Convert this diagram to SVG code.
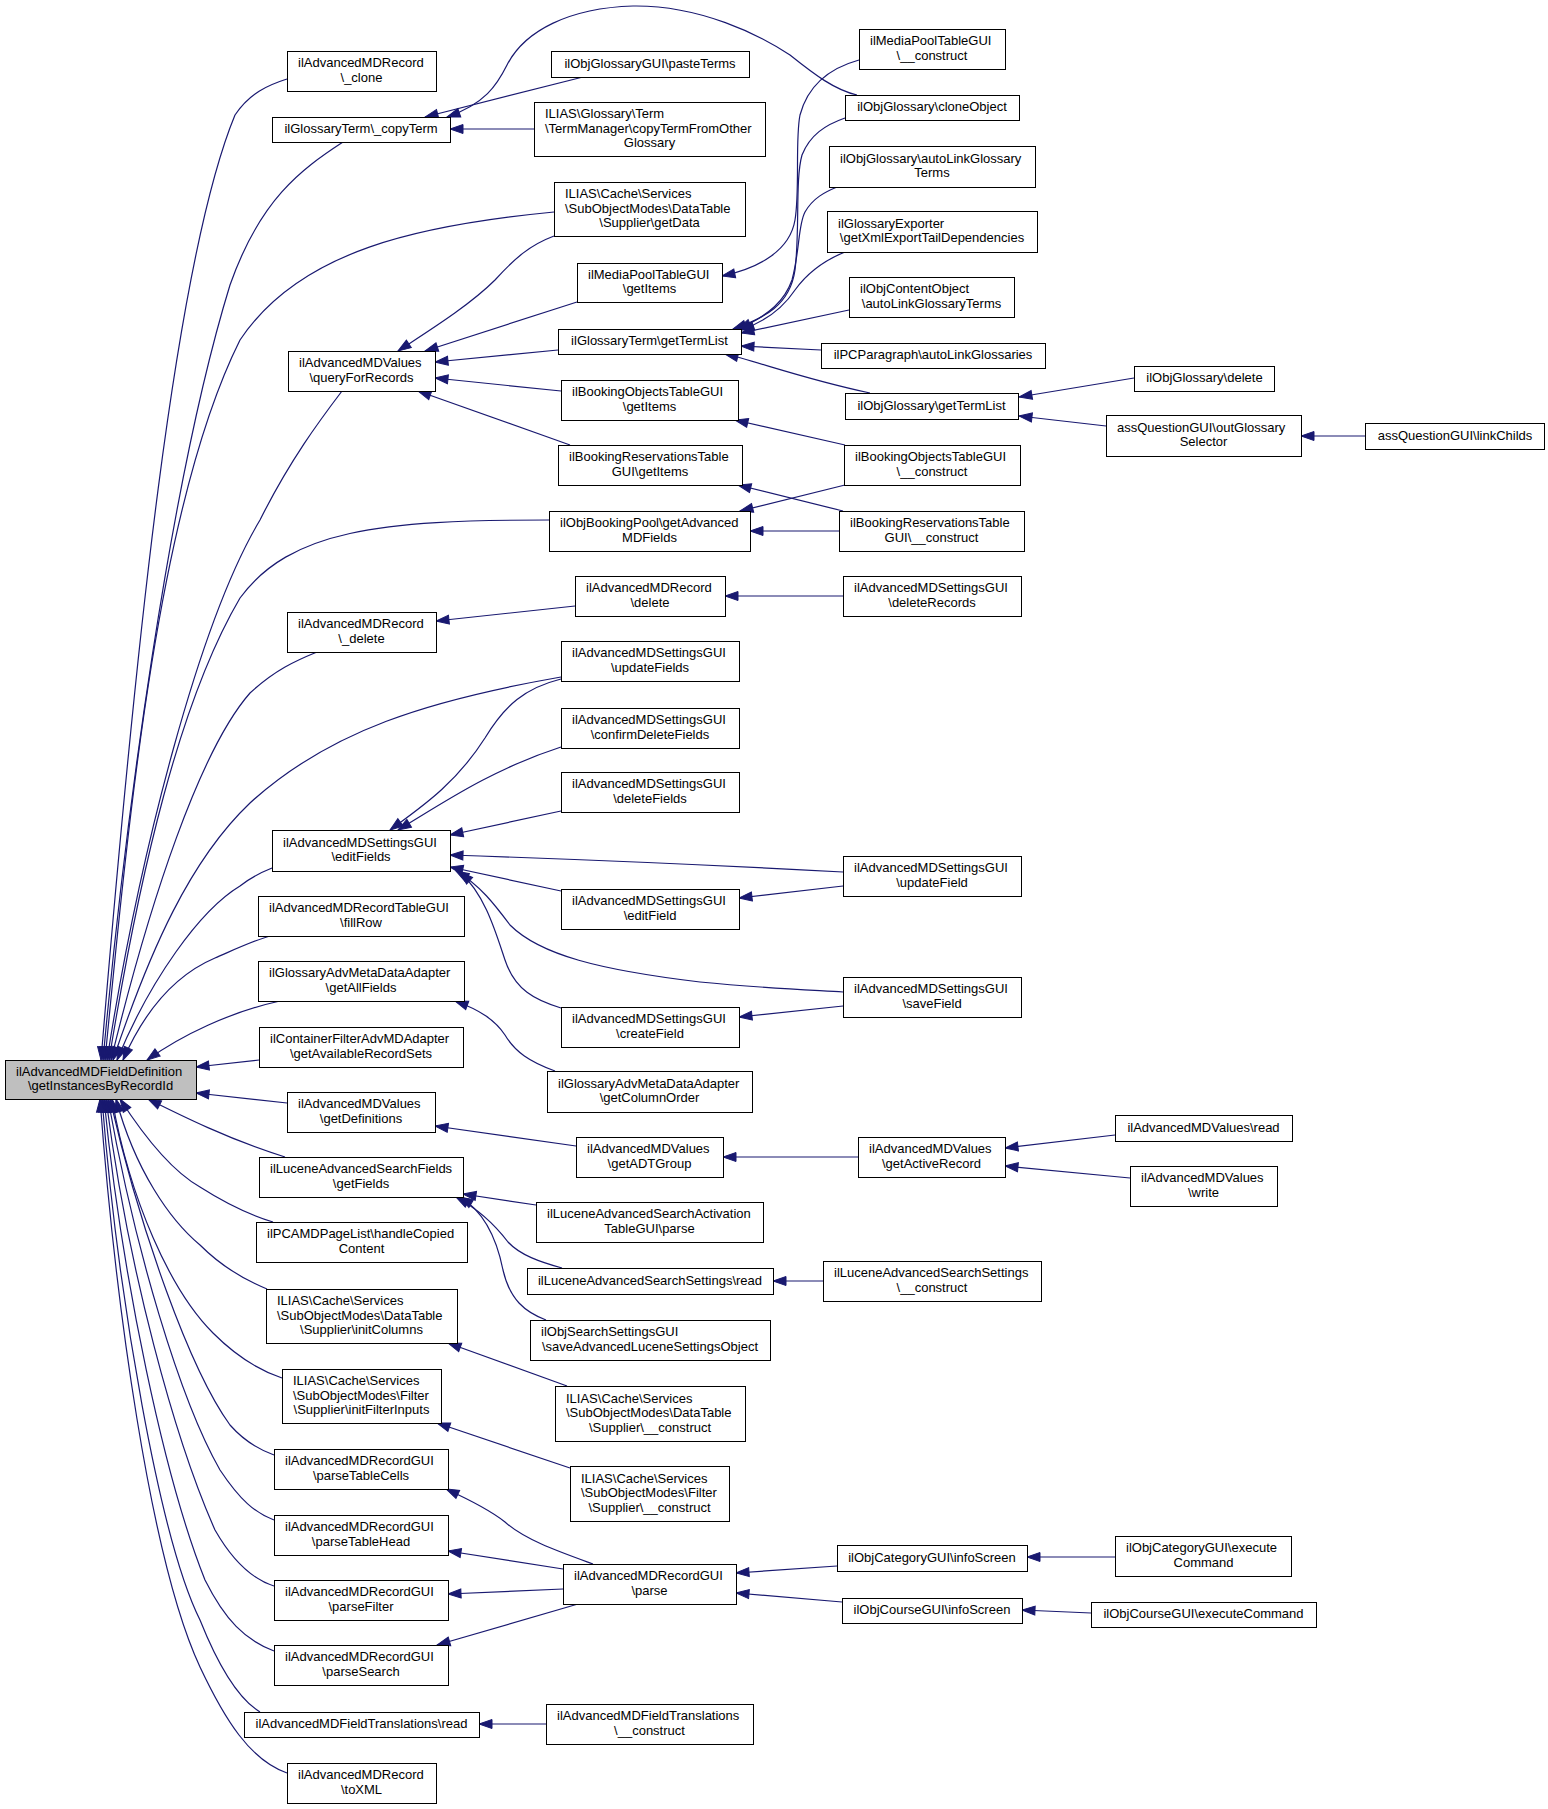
<svg xmlns="http://www.w3.org/2000/svg" width="1548" height="1809" viewBox="0 0 1548 1809">
<style>
.n rect{fill:#fff;stroke:#000;stroke-width:1}
.m rect{fill:#bfbfbf;stroke:#000;stroke-width:1}
text{font-family:"Liberation Sans",Arial,Helvetica,sans-serif;font-size:13px;fill:#000}
.c{text-anchor:middle}
#edges path{fill:none;stroke:#191970;stroke-width:1.2;marker-start:url(#ah)}
</style>
<defs>
<marker id="ah" markerUnits="userSpaceOnUse" markerWidth="14" markerHeight="10" refX="13" refY="4.5" orient="auto-start-reverse" overflow="visible">
<path d="M0,0 L13,4.5 L0,9 z" fill="#191970" stroke="#191970" stroke-width="1"/>
</marker>
</defs>
<rect width="1548" height="1809" fill="#fff"/>
<g id="edges">
<!-- main top -->
<path d="M101,1060 C135,650 175,260 235,115 C250,93 268,85 287,79"/>
<path d="M103,1060 C125,820 170,480 230,285 C260,200 300,170 343,142"/>
<path d="M105,1060 C130,800 160,500 240,340 C300,250 420,225 554,212"/>
<path d="M107,1060 C140,850 200,620 260,520 C290,460 320,420 342,391"/>
<path d="M109,1060 C140,870 180,700 240,598 C290,530 380,520 549,520"/>
<path d="M111,1060 C150,900 200,750 250,693 C275,670 295,661 317,652"/>
<path d="M113,1060 C150,950 190,860 250,803 C330,730 430,700 561,677"/>
<path d="M117,1060 C150,980 200,910 240,886 C250,878 262,872 272,868"/>
<path d="M123,1060 C145,1010 175,975 215,958 C238,948 255,940 270,936"/>
<path d="M147,1060 C182,1035 230,1012 280,1001"/>
<!-- main right -->
<path d="M196,1067 L259,1060"/>
<path d="M196,1093 L287,1103"/>
<!-- main bottom -->
<path d="M148,1099 C180,1115 230,1140 285,1157"/>
<path d="M120,1099 C140,1130 170,1170 200,1187 C225,1203 250,1215 273,1222"/>
<path d="M116,1099 C135,1170 170,1220 200,1245 C220,1265 245,1280 267,1289"/>
<path d="M112,1099 C130,1200 170,1290 213,1333 C235,1355 258,1370 282,1378"/>
<path d="M110,1099 C140,1230 190,1370 230,1425 C245,1442 260,1450 274,1455"/>
<path d="M108,1099 C135,1250 180,1400 220,1470 C240,1500 255,1513 274,1520"/>
<path d="M106,1099 C128,1270 175,1440 215,1530 C235,1565 255,1580 274,1586"/>
<path d="M104,1099 C122,1280 165,1480 205,1580 C225,1620 245,1640 274,1651"/>
<path d="M102,1099 C118,1300 160,1540 200,1620 C220,1670 240,1700 260,1712"/>
<path d="M100,1099 C115,1300 150,1560 200,1667 C225,1720 250,1760 287,1773"/>
<!-- copyTerm -->
<path d="M425,117 L583,77"/>
<path d="M447,117 C485,104 497,85 507,65 C525,30 570,8 633,6 C700,5 760,35 790,55 C815,75 835,90 857,95"/>
<path d="M450,129 L534,129"/>
<!-- queryForRecords -->
<path d="M398,351 C430,330 470,305 495,280 C515,258 530,245 554,236"/>
<path d="M425,351 L577,302"/>
<path d="M435,362 L558,350"/>
<path d="M435,378 L561,391"/>
<path d="M418,391 L570,445"/>
<!-- media pool -->
<path d="M722,276 C760,268 790,250 795,220 C800,190 795,140 800,115 C808,85 830,68 859,60"/>
<!-- glossary term getTermList -->
<path d="M733,329 C765,318 790,305 795,270 C800,230 795,180 802,155 C810,135 825,125 845,118"/>
<path d="M738,329 C770,315 785,300 792,280 C800,250 798,225 805,212 C813,198 825,192 837,187"/>
<path d="M741,330 C770,320 785,305 795,290 C808,272 825,260 845,252"/>
<path d="M741,333 L849,310"/>
<path d="M741,346 L821,350"/>
<path d="M725,354 C760,362 800,378 870,393"/>
<!-- obj glossary getTermList -->
<path d="M1019,397 L1134,378"/>
<path d="M1019,416 L1106,426"/>
<path d="M1301,436 L1365,436"/>
<!-- booking -->
<path d="M735,420 L845,445"/>
<path d="M738,485 L843,511"/>
<path d="M740,511 L845,485"/>
<path d="M750,531 L839,531"/>
<!-- record delete -->
<path d="M725,596 L843,596"/>
<path d="M436,621 L575,606"/>
<!-- editFields -->
<path d="M390,830 C420,808 455,785 485,738 C505,705 525,688 561,679"/>
<path d="M398,830 C440,805 490,770 561,747"/>
<path d="M450,835 L561,811"/>
<path d="M450,855 C600,860 750,867 843,872"/>
<path d="M450,867 L561,891"/>
<path d="M456,871 C480,885 495,905 510,925 C540,955 600,970 700,982 C760,988 810,990 843,992"/>
<path d="M460,872 C485,895 495,930 505,960 C515,990 535,1000 561,1008"/>
<path d="M739,898 L843,886"/>
<path d="M739,1017 L843,1006"/>
<!-- getAllFields / getDefinitions -->
<path d="M455,1001 C480,1010 495,1020 505,1035 C515,1052 530,1062 555,1071"/>
<path d="M435,1126 L576,1146"/>
<path d="M723,1157 L858,1157"/>
<path d="M1005,1148 L1115,1135"/>
<path d="M1005,1166 L1130,1178"/>
<!-- getFields -->
<path d="M463,1194 L536,1205"/>
<path d="M456,1197 C480,1210 495,1225 508,1242 C520,1255 540,1262 562,1268"/>
<path d="M460,1197 C485,1212 497,1240 503,1270 C510,1300 525,1312 546,1320"/>
<path d="M773,1281 L823,1281"/>
<!-- supplier -->
<path d="M448,1343 L567,1386"/>
<path d="M437,1423 L570,1468"/>
<!-- parse -->
<path d="M446,1489 C470,1500 490,1510 505,1522 C525,1540 560,1552 593,1564"/>
<path d="M448,1551 L563,1569"/>
<path d="M448,1594 L563,1589"/>
<path d="M437,1645 L578,1604"/>
<path d="M736,1573 L837,1566"/>
<path d="M736,1593 L842,1602"/>
<path d="M1027,1557 L1115,1557"/>
<path d="M1022,1610 L1091,1613"/>
<path d="M479,1724 L546,1724"/>
</g>

<g id="main" class="m"><rect x="5.5" y="1060.5" width="191" height="39"/><text x="16" y="1076">ilAdvancedMDFieldDefinition</text><text class="c" x="100.5" y="1090.3">\getInstancesByRecordId</text></g>

<g id="n_clone" class="n"><rect x="287.5" y="51.5" width="149" height="40"/><text x="298" y="67.3">ilAdvancedMDRecord</text><text class="c" x="361.5" y="81.8">\_clone</text></g>
<g id="n_copyTerm" class="n"><rect x="272.5" y="117.5" width="178" height="25"/><text class="c" x="361" y="133">ilGlossaryTerm\_copyTerm</text></g>
<g id="n_queryForRecords" class="n"><rect x="288.5" y="351.5" width="147" height="40"/><text x="299" y="367.3">ilAdvancedMDValues</text><text class="c" x="361.5" y="381.8">\queryForRecords</text></g>
<g id="n_delete_" class="n"><rect x="287.5" y="612.5" width="149" height="40"/><text x="298" y="628.3">ilAdvancedMDRecord</text><text class="c" x="361.5" y="642.8">\_delete</text></g>
<g id="n_editFields" class="n"><rect x="272.5" y="830.5" width="178" height="41"/><text x="283" y="846.8">ilAdvancedMDSettingsGUI</text><text class="c" x="361" y="861.3">\editFields</text></g>
<g id="n_fillRow" class="n"><rect x="258.5" y="896.5" width="206" height="40"/><text x="269" y="912.3">ilAdvancedMDRecordTableGUI</text><text class="c" x="361" y="926.8">\fillRow</text></g>
<g id="n_getAllFields" class="n"><rect x="258.5" y="961.5" width="206" height="40"/><text x="269" y="977.3">ilGlossaryAdvMetaDataAdapter</text><text class="c" x="361" y="991.8">\getAllFields</text></g>
<g id="n_getAvailable" class="n"><rect x="259.5" y="1027.5" width="204" height="40"/><text x="270" y="1043.3">ilContainerFilterAdvMDAdapter</text><text class="c" x="361" y="1057.8">\getAvailableRecordSets</text></g>
<g id="n_getDefinitions" class="n"><rect x="287.5" y="1092.5" width="148" height="40"/><text x="298" y="1108.3">ilAdvancedMDValues</text><text class="c" x="361" y="1122.8">\getDefinitions</text></g>
<g id="n_getFields" class="n"><rect x="259.5" y="1157.5" width="204" height="40"/><text x="270" y="1173.3">ilLuceneAdvancedSearchFields</text><text class="c" x="361" y="1187.8">\getFields</text></g>
<g id="n_handleCopied" class="n"><rect x="256.5" y="1222.5" width="211" height="40"/><text x="267" y="1238.3">ilPCAMDPageList\handleCopied</text><text class="c" x="361.5" y="1252.8">Content</text></g>
<g id="n_initColumns" class="n"><rect x="266.5" y="1289.5" width="191" height="54"/><text x="277" y="1305">ILIAS\Cache\Services</text><text x="277" y="1319.5">\SubObjectModes\DataTable</text><text class="c" x="361.5" y="1334">\Supplier\initColumns</text></g>
<g id="n_initFilterInputs" class="n"><rect x="282.5" y="1369.5" width="159" height="54"/><text x="293" y="1385">ILIAS\Cache\Services</text><text x="293" y="1399.5">\SubObjectModes\Filter</text><text class="c" x="361.5" y="1414">\Supplier\initFilterInputs</text></g>
<g id="n_parseTableCells" class="n"><rect x="274.5" y="1449.5" width="174" height="40"/><text x="285" y="1465.3">ilAdvancedMDRecordGUI</text><text class="c" x="361" y="1479.8">\parseTableCells</text></g>
<g id="n_parseTableHead" class="n"><rect x="274.5" y="1515.5" width="174" height="40"/><text x="285" y="1531.3">ilAdvancedMDRecordGUI</text><text class="c" x="361" y="1545.8">\parseTableHead</text></g>
<g id="n_parseFilter" class="n"><rect x="274.5" y="1580.5" width="174" height="40"/><text x="285" y="1596.3">ilAdvancedMDRecordGUI</text><text class="c" x="361" y="1610.8">\parseFilter</text></g>
<g id="n_parseSearch" class="n"><rect x="274.5" y="1645.5" width="174" height="40"/><text x="285" y="1661.3">ilAdvancedMDRecordGUI</text><text class="c" x="361" y="1675.8">\parseSearch</text></g>
<g id="n_ftRead" class="n"><rect x="244.5" y="1712.5" width="235" height="25"/><text class="c" x="361.5" y="1728">ilAdvancedMDFieldTranslations\read</text></g>
<g id="n_toXML" class="n"><rect x="287.5" y="1763.5" width="149" height="40"/><text x="298" y="1779.3">ilAdvancedMDRecord</text><text class="c" x="361.5" y="1793.8">\toXML</text></g>

<g id="n_pasteTerms" class="n"><rect x="551.5" y="51.5" width="198" height="26"/><text class="c" x="650" y="67.5">ilObjGlossaryGUI\pasteTerms</text></g>
<g id="n_copyTermFromOther" class="n"><rect x="534.5" y="102.5" width="231" height="54"/><text x="545" y="118">ILIAS\Glossary\Term</text><text x="545" y="132.5">\TermManager\copyTermFromOther</text><text class="c" x="649.5" y="147">Glossary</text></g>
<g id="n_getData" class="n"><rect x="554.5" y="182.5" width="191" height="54"/><text x="565" y="198">ILIAS\Cache\Services</text><text x="565" y="212.5">\SubObjectModes\DataTable</text><text class="c" x="649.5" y="227">\Supplier\getData</text></g>
<g id="n_mpGetItems" class="n"><rect x="577.5" y="263.5" width="145" height="39"/><text x="588" y="278.8">ilMediaPoolTableGUI</text><text class="c" x="649.5" y="293.3">\getItems</text></g>
<g id="n_gtGetTermList" class="n"><rect x="558.5" y="329.5" width="183" height="25"/><text class="c" x="649.5" y="345">ilGlossaryTerm\getTermList</text></g>
<g id="n_boGetItems" class="n"><rect x="561.5" y="380.5" width="177" height="40"/><text x="572" y="396.3">ilBookingObjectsTableGUI</text><text class="c" x="649.5" y="410.8">\getItems</text></g>
<g id="n_brGetItems" class="n"><rect x="558.5" y="445.5" width="184" height="40"/><text x="569" y="461.3">ilBookingReservationsTable</text><text class="c" x="650" y="475.8">GUI\getItems</text></g>
<g id="n_getAdvMD" class="n"><rect x="549.5" y="511.5" width="201" height="40"/><text x="560" y="527.3">ilObjBookingPool\getAdvanced</text><text class="c" x="649.5" y="541.8">MDFields</text></g>
<g id="n_recDelete" class="n"><rect x="575.5" y="576.5" width="150" height="40"/><text x="586" y="592.3">ilAdvancedMDRecord</text><text class="c" x="650" y="606.8">\delete</text></g>
<g id="n_updateFields" class="n"><rect x="561.5" y="641.5" width="178" height="40"/><text x="572" y="657.3">ilAdvancedMDSettingsGUI</text><text class="c" x="650" y="671.8">\updateFields</text></g>
<g id="n_confirmDeleteFields" class="n"><rect x="561.5" y="708.5" width="178" height="40"/><text x="572" y="724.3">ilAdvancedMDSettingsGUI</text><text class="c" x="650" y="738.8">\confirmDeleteFields</text></g>
<g id="n_deleteFields" class="n"><rect x="561.5" y="772.5" width="178" height="40"/><text x="572" y="788.3">ilAdvancedMDSettingsGUI</text><text class="c" x="650" y="802.8">\deleteFields</text></g>
<g id="n_editField" class="n"><rect x="561.5" y="889.5" width="178" height="40"/><text x="572" y="905.3">ilAdvancedMDSettingsGUI</text><text class="c" x="650" y="919.8">\editField</text></g>
<g id="n_createField" class="n"><rect x="561.5" y="1007.5" width="178" height="40"/><text x="572" y="1023.3">ilAdvancedMDSettingsGUI</text><text class="c" x="650" y="1037.8">\createField</text></g>
<g id="n_getColumnOrder" class="n"><rect x="547.5" y="1071.5" width="205" height="41"/><text x="558" y="1087.8">ilGlossaryAdvMetaDataAdapter</text><text class="c" x="649.5" y="1102.3">\getColumnOrder</text></g>
<g id="n_getADTGroup" class="n"><rect x="576.5" y="1137.5" width="147" height="40"/><text x="587" y="1153.3">ilAdvancedMDValues</text><text class="c" x="649.5" y="1167.8">\getADTGroup</text></g>
<g id="n_actParse" class="n"><rect x="536.5" y="1202.5" width="227" height="40"/><text x="547" y="1218.3">ilLuceneAdvancedSearchActivation</text><text class="c" x="649.5" y="1232.8">TableGUI\parse</text></g>
<g id="n_lsRead" class="n"><rect x="527.5" y="1268.5" width="246" height="26"/><text class="c" x="650" y="1284.5">ilLuceneAdvancedSearchSettings\read</text></g>
<g id="n_saveAdv" class="n"><rect x="530.5" y="1320.5" width="240" height="40"/><text x="541" y="1336.3">ilObjSearchSettingsGUI</text><text class="c" x="650" y="1350.8">\saveAdvancedLuceneSettingsObject</text></g>
<g id="n_dtConstruct" class="n"><rect x="555.5" y="1386.5" width="190" height="55"/><text x="566" y="1402.5">ILIAS\Cache\Services</text><text x="566" y="1417">\SubObjectModes\DataTable</text><text class="c" x="650" y="1431.5">\Supplier\__construct</text></g>
<g id="n_fConstruct" class="n"><rect x="570.5" y="1466.5" width="159" height="55"/><text x="581" y="1482.5">ILIAS\Cache\Services</text><text x="581" y="1497">\SubObjectModes\Filter</text><text class="c" x="649.5" y="1511.5">\Supplier\__construct</text></g>
<g id="n_rgParse" class="n"><rect x="563.5" y="1564.5" width="173" height="40"/><text x="574" y="1580.3">ilAdvancedMDRecordGUI</text><text class="c" x="649.5" y="1594.8">\parse</text></g>
<g id="n_ftConstruct" class="n"><rect x="546.5" y="1704.5" width="207" height="40"/><text x="557" y="1720.3">ilAdvancedMDFieldTranslations</text><text class="c" x="649.5" y="1734.8">\__construct</text></g>

<g id="n_mpConstruct" class="n"><rect x="859.5" y="29.5" width="146" height="40"/><text x="870" y="45.3">ilMediaPoolTableGUI</text><text class="c" x="932" y="59.8">\__construct</text></g>
<g id="n_cloneObject" class="n"><rect x="845.5" y="95.5" width="174" height="25"/><text class="c" x="932" y="111">ilObjGlossary\cloneObject</text></g>
<g id="n_autoLinkGT" class="n"><rect x="829.5" y="146.5" width="206" height="41"/><text x="840" y="162.8">ilObjGlossary\autoLinkGlossary</text><text class="c" x="932" y="177.3">Terms</text></g>
<g id="n_getXmlExport" class="n"><rect x="827.5" y="211.5" width="210" height="41"/><text x="838" y="227.8">ilGlossaryExporter</text><text class="c" x="932" y="242.3">\getXmlExportTailDependencies</text></g>
<g id="n_coAutoLink" class="n"><rect x="849.5" y="277.5" width="165" height="40"/><text x="860" y="293.3">ilObjContentObject</text><text class="c" x="931.5" y="307.8">\autoLinkGlossaryTerms</text></g>
<g id="n_pcAutoLink" class="n"><rect x="821.5" y="343.5" width="224" height="25"/><text class="c" x="933" y="359">ilPCParagraph\autoLinkGlossaries</text></g>
<g id="n_ogGetTermList" class="n"><rect x="845.5" y="393.5" width="173" height="26"/><text class="c" x="931.5" y="409.5">ilObjGlossary\getTermList</text></g>
<g id="n_boConstruct" class="n"><rect x="844.5" y="445.5" width="176" height="40"/><text x="855" y="461.3">ilBookingObjectsTableGUI</text><text class="c" x="932" y="475.8">\__construct</text></g>
<g id="n_brConstruct" class="n"><rect x="839.5" y="511.5" width="185" height="40"/><text x="850" y="527.3">ilBookingReservationsTable</text><text class="c" x="931.5" y="541.8">GUI\__construct</text></g>
<g id="n_deleteRecords" class="n"><rect x="843.5" y="576.5" width="178" height="40"/><text x="854" y="592.3">ilAdvancedMDSettingsGUI</text><text class="c" x="932" y="606.8">\deleteRecords</text></g>
<g id="n_updateField" class="n"><rect x="843.5" y="856.5" width="178" height="40"/><text x="854" y="872.3">ilAdvancedMDSettingsGUI</text><text class="c" x="932" y="886.8">\updateField</text></g>
<g id="n_saveField" class="n"><rect x="843.5" y="977.5" width="178" height="40"/><text x="854" y="993.3">ilAdvancedMDSettingsGUI</text><text class="c" x="932" y="1007.8">\saveField</text></g>
<g id="n_getActiveRecord" class="n"><rect x="858.5" y="1137.5" width="147" height="40"/><text x="869" y="1153.3">ilAdvancedMDValues</text><text class="c" x="931.5" y="1167.8">\getActiveRecord</text></g>
<g id="n_lsConstruct" class="n"><rect x="823.5" y="1261.5" width="218" height="40"/><text x="834" y="1277.3">ilLuceneAdvancedSearchSettings</text><text class="c" x="932" y="1291.8">\__construct</text></g>
<g id="n_catInfo" class="n"><rect x="837.5" y="1545.5" width="190" height="26"/><text class="c" x="932" y="1561.5">ilObjCategoryGUI\infoScreen</text></g>
<g id="n_crsInfo" class="n"><rect x="842.5" y="1598.5" width="180" height="25"/><text class="c" x="932" y="1614">ilObjCourseGUI\infoScreen</text></g>

<g id="n_ogDelete" class="n"><rect x="1134.5" y="366.5" width="140" height="25"/><text class="c" x="1204.5" y="382">ilObjGlossary\delete</text></g>
<g id="n_outGlossary" class="n"><rect x="1106.5" y="415.5" width="195" height="41"/><text x="1117" y="431.8">assQuestionGUI\outGlossary</text><text class="c" x="1203.5" y="446.3">Selector</text></g>
<g id="n_mdRead" class="n"><rect x="1115.5" y="1115.5" width="177" height="26"/><text class="c" x="1203.5" y="1131.5">ilAdvancedMDValues\read</text></g>
<g id="n_mdWrite" class="n"><rect x="1130.5" y="1166.5" width="147" height="40"/><text x="1141" y="1182.3">ilAdvancedMDValues</text><text class="c" x="1203.5" y="1196.8">\write</text></g>
<g id="n_catExec" class="n"><rect x="1115.5" y="1536.5" width="176" height="40"/><text x="1126" y="1552.3">ilObjCategoryGUI\execute</text><text class="c" x="1203.5" y="1566.8">Command</text></g>
<g id="n_crsExec" class="n"><rect x="1091.5" y="1602.5" width="225" height="25"/><text class="c" x="1203.5" y="1618">ilObjCourseGUI\executeCommand</text></g>
<g id="n_linkChilds" class="n"><rect x="1365.5" y="423.5" width="179" height="26"/><text class="c" x="1455" y="439.5">assQuestionGUI\linkChilds</text></g>
</svg>
